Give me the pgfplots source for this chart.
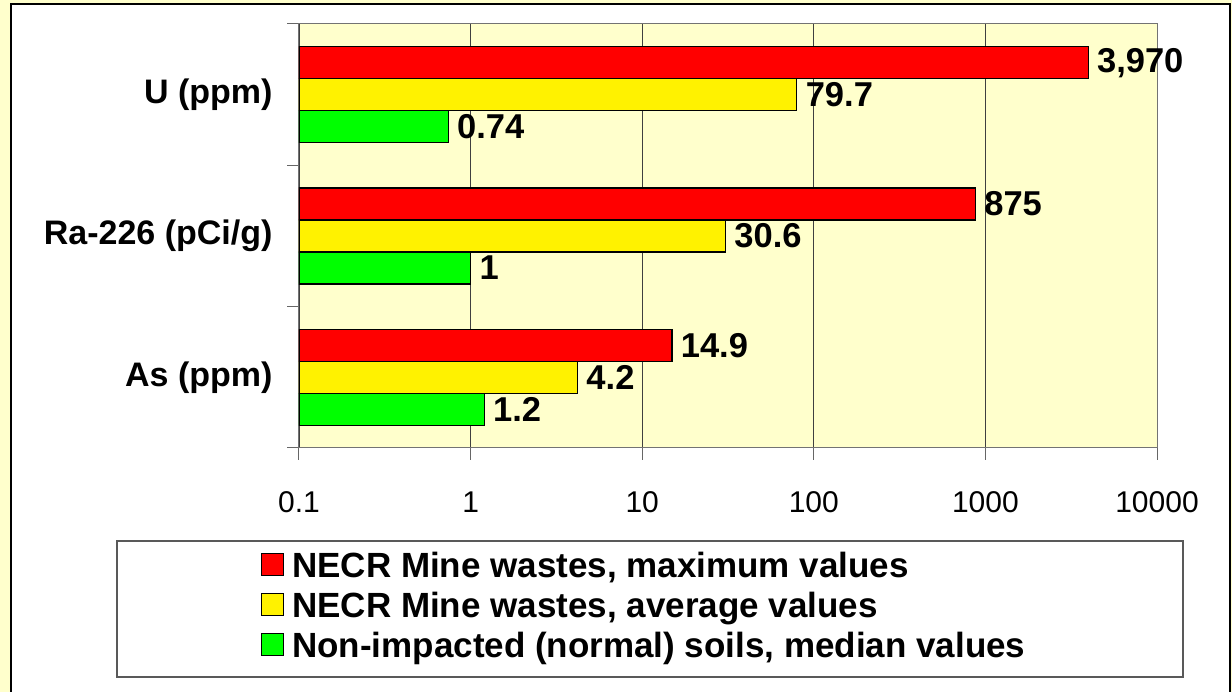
\documentclass[border=0pt]{standalone}
\usepackage{pgfplots}
\pgfplotsset{compat=1.18}
\usepackage{fontspec}
\setmainfont{Liberation Sans}
\definecolor{cream}{HTML}{FFFFCC}
\begin{document}
\begin{tikzpicture}[x=1pt,y=1pt]
\useasboundingbox (0,0) rectangle (1232,692);
\fill[cream] (0,0) rectangle (1232,692);
\draw[black, line width=1.2pt, fill=white] (11,-5) rectangle (1230,688);
\draw[black!65, line width=1.2pt] (117,15) rectangle (1183,151);
\begin{axis}[
  at={(299pt,244pt)}, anchor=south west,
  scale only axis, width=858pt, height=424pt,
  xmode=log, log origin=infty,
  xmin=0.1, xmax=10000,
  ymin=-0.5, ymax=2.5,
  xbar, bar width=32pt,
  axis background/.style={fill=cream},
  axis line style={draw=black!55, line width=1pt},
  xtick={0.1,1,10,100,1000,10000},
  xticklabels={0.1,1,10,100,1000,10000},
  xminorticks=false,
  xmajorgrids, grid style={draw=black!75, line width=0.8pt},
  ytick={-0.5,0.5,1.5,2.5}, yticklabels={},
  extra y ticks={0,1,2},
  extra y tick labels={As (ppm),Ra-226 (pCi/g),U (ppm)},
  extra y tick style={major tick length=0pt, grid=none,
    yticklabel style={font=\bfseries\fontsize{34}{40}\selectfont, xshift=-23pt}},
  xtick pos=bottom, ytick pos=left,
  tick align=outside, major tick length=12pt,
  tick style={draw=black!60, line width=1pt},
  xticklabel style={font=\fontsize{30}{36}\selectfont, yshift=-28pt},
  /pgf/number format/assume math mode=true,
  nodes near coords, point meta=explicit symbolic,
  nodes near coords style={font=\bfseries\fontsize{34.5}{40}\selectfont, anchor=west, text=black, xshift=5pt},
  legend image code/.code={\draw[#1,draw=black,line width=1pt] (0pt,-10pt) rectangle (22pt,12pt);},
  legend style={at={(axis description cs:0.4025,-0.3720)}, anchor=center, draw=none, fill=none,
    font=\bfseries\fontsize{35}{42}\selectfont, row sep=9pt,
    /tikz/every odd column/.append style={column sep=6pt}},
  legend cell align=left,
]
\addplot[fill=red, draw=black, line width=1.2pt, bar shift=32pt] table[x=x, y=y, meta=label] {
x y label
3970 2 3,970
875 1 875
14.9 0 14.9
};
\addplot[fill=yellow, draw=black, line width=1.2pt, bar shift=0pt] table[x=x, y=y, meta=label] {
x y label
79.7 2 79.7
30.6 1 30.6
4.2 0 4.2
};
\addplot[fill=green, draw=black, line width=1.2pt, bar shift=-32pt] table[x=x, y=y, meta=label] {
x y label
0.74 2 0.74
1 1 1
1.2 0 1.2
};
\legend{{NECR Mine wastes, maximum values}, {NECR Mine wastes, average values}, {Non-impacted (normal) soils, median values}}
\end{axis}
\end{tikzpicture}
\end{document}
